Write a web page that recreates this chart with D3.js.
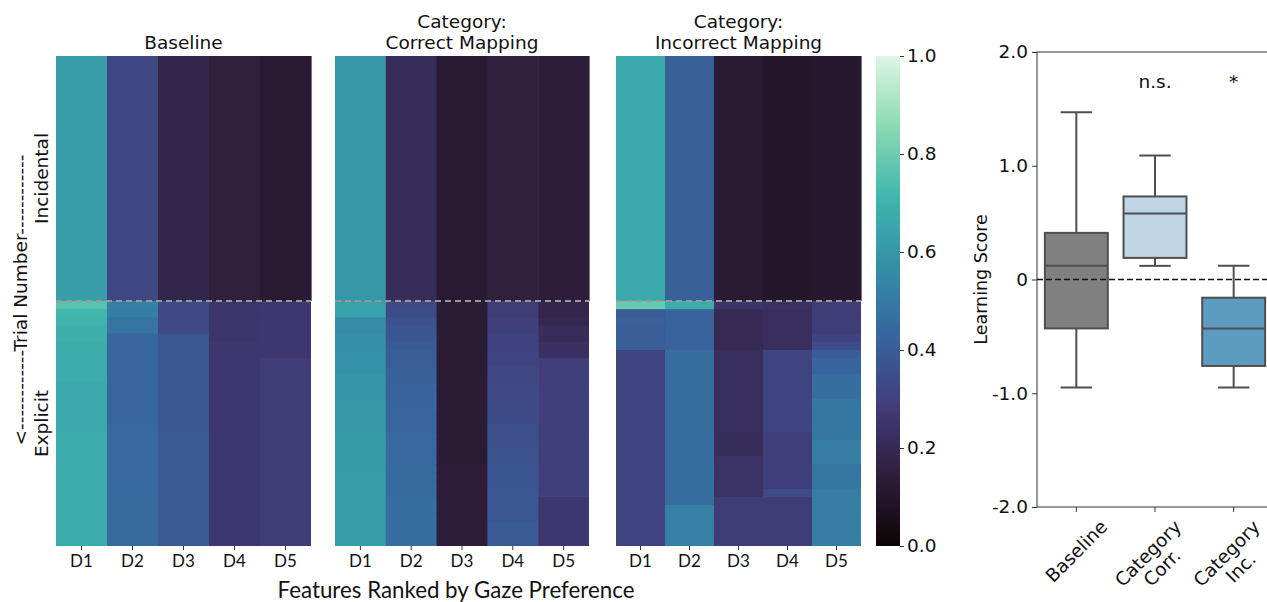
<!DOCTYPE html>
<html>
<head>
<meta charset="utf-8">
<script src="https://cdn.jsdelivr.net/npm/d3@7"></script>
<style>
  body { margin: 0; background: #fff; }
  text { font-family: "DejaVu Sans", sans-serif; fill: #111; }
</style>
</head>
<body>
<svg id="chart" width="1267" height="602"></svg>
<script>
// ---- data ----
const features = ["D1", "D2", "D3", "D4", "D5"];
const conditions = ["Baseline", "Category:\nCorrect Mapping", "Category:\nIncorrect Mapping"];

// incidental phase: one mean value per feature (flat block)
const incidentalBaseline  = [0.62, 0.32, 0.18, 0.15, 0.12];
const incidentalCorrect   = [0.60, 0.21, 0.12, 0.15, 0.14];
const incidentalIncorrect = [0.66, 0.41, 0.12, 0.10, 0.11];

// explicit phase: 30 trials per feature (columns D1..D5)
const explicitBaseline = [
  [0.76,0.71,0.70,0.69,0.69,0.68,0.68,0.67,0.67,0.67,0.66,0.66,0.66,0.66,0.66,0.66,0.67,0.67,0.67,0.67,0.68,0.68,0.68,0.68,0.68,0.68,0.68,0.68,0.68,0.68],
  [0.52,0.51,0.48,0.48,0.43,0.43,0.43,0.43,0.43,0.43,0.43,0.43,0.43,0.43,0.43,0.44,0.44,0.44,0.44,0.44,0.44,0.44,0.44,0.45,0.45,0.45,0.45,0.45,0.45,0.45],
  [0.33,0.33,0.33,0.33,0.38,0.38,0.38,0.38,0.38,0.38,0.38,0.38,0.38,0.38,0.38,0.38,0.39,0.39,0.39,0.39,0.39,0.39,0.39,0.39,0.39,0.39,0.39,0.39,0.39,0.39],
  [0.25,0.25,0.25,0.25,0.25,0.26,0.26,0.26,0.26,0.26,0.26,0.26,0.26,0.26,0.26,0.26,0.26,0.26,0.26,0.26,0.26,0.26,0.26,0.26,0.26,0.26,0.26,0.26,0.26,0.26],
  [0.26,0.26,0.26,0.26,0.26,0.26,0.26,0.28,0.28,0.28,0.28,0.28,0.28,0.28,0.28,0.28,0.28,0.28,0.28,0.28,0.28,0.28,0.28,0.28,0.28,0.28,0.28,0.28,0.28,0.28]
];
const explicitCorrect = [
  [0.64,0.64,0.56,0.56,0.57,0.57,0.58,0.58,0.58,0.59,0.59,0.59,0.60,0.60,0.60,0.60,0.61,0.61,0.61,0.61,0.61,0.62,0.62,0.62,0.62,0.62,0.62,0.62,0.62,0.62],
  [0.33,0.34,0.36,0.37,0.38,0.39,0.40,0.40,0.41,0.41,0.42,0.42,0.42,0.43,0.43,0.43,0.44,0.44,0.44,0.44,0.45,0.45,0.45,0.45,0.46,0.46,0.46,0.46,0.46,0.46],
  [0.13,0.13,0.13,0.13,0.13,0.13,0.13,0.13,0.13,0.13,0.13,0.13,0.13,0.13,0.13,0.13,0.13,0.13,0.13,0.13,0.14,0.14,0.14,0.14,0.14,0.14,0.14,0.14,0.14,0.14],
  [0.28,0.28,0.29,0.29,0.30,0.30,0.31,0.31,0.32,0.32,0.33,0.33,0.33,0.34,0.34,0.35,0.35,0.35,0.36,0.36,0.37,0.37,0.37,0.38,0.38,0.38,0.38,0.39,0.39,0.39],
  [0.18,0.18,0.19,0.21,0.21,0.23,0.23,0.29,0.29,0.29,0.29,0.29,0.29,0.29,0.29,0.29,0.29,0.29,0.29,0.29,0.29,0.29,0.29,0.29,0.26,0.26,0.26,0.26,0.26,0.26]
];
const explicitIncorrect = [
  [0.79,0.40,0.41,0.40,0.40,0.40,0.31,0.31,0.31,0.31,0.31,0.31,0.31,0.31,0.31,0.31,0.31,0.31,0.31,0.31,0.31,0.31,0.31,0.31,0.31,0.31,0.31,0.31,0.31,0.31],
  [0.68,0.42,0.42,0.42,0.42,0.42,0.46,0.46,0.46,0.46,0.46,0.46,0.46,0.46,0.46,0.46,0.46,0.46,0.46,0.46,0.46,0.46,0.46,0.46,0.46,0.52,0.52,0.52,0.52,0.52],
  [0.25,0.20,0.20,0.20,0.20,0.20,0.22,0.22,0.22,0.22,0.22,0.22,0.22,0.22,0.22,0.22,0.21,0.21,0.21,0.24,0.24,0.24,0.24,0.24,0.28,0.28,0.28,0.28,0.28,0.28],
  [0.23,0.22,0.22,0.22,0.22,0.22,0.31,0.31,0.31,0.31,0.31,0.31,0.31,0.31,0.31,0.31,0.29,0.29,0.29,0.29,0.29,0.29,0.29,0.33,0.28,0.28,0.28,0.28,0.28,0.28],
  [0.28,0.28,0.28,0.28,0.31,0.34,0.40,0.42,0.42,0.46,0.46,0.46,0.49,0.49,0.49,0.49,0.49,0.51,0.51,0.51,0.48,0.49,0.49,0.51,0.51,0.51,0.51,0.51,0.51,0.51]
];
const incidentalData = [incidentalBaseline, incidentalCorrect, incidentalIncorrect];
const explicitData = [explicitBaseline, explicitCorrect, explicitIncorrect];

// learning score box stats
const boxGroups = ["Baseline", "Category\nCorr.", "Category\nInc."];
const boxWhiskerLow = [-0.95, 0.12, -0.95];
const boxQ1        = [-0.43, 0.19, -0.76];
const boxMedian    = [0.12, 0.58, -0.43];
const boxQ3        = [0.41, 0.73, -0.16];
const boxWhiskerHigh = [1.47, 1.09, 0.12];
const boxColors = ["#808080", "#bed5e6", "#5e9bc1"];
const boxSignif = ["", "n.s.", "*"];
const scoreTicks = [2, 1, 0, -1, -2];
const scoreTickLabels = ["2.0", "1.0", "0", "-1.0", "-2.0"];
const colorbarTicks = [0, 0.2, 0.4, 0.6, 0.8, 1.0];

// ---- colormap (seaborn "mako") ----
const makoStops = [0, 1/7, 2/7, 3/7, 4/7, 5/7, 6/7, 1];
const makoColors = ["#0b0405", "#2e1e3b", "#413d7b", "#37659e", "#348fa7", "#40b7ad", "#8bdab2", "#def5e5"];
const color = d3.scaleLinear().domain(makoStops).range(makoColors).interpolate(d3.interpolateRgb).clamp(true);

const FS = "18.5px";
const svg = d3.select("#chart");
svg.append("rect").attr("width", 1267).attr("height", 602).attr("fill", "#fff");

// ---- heatmaps ----
const panelX = [[56, 311], [335, 589], [616, 861]];
const hmTop = 56, hmBottom = 546;
const nIncidental = 30, nExplicit = 30;
const y = d3.scaleLinear().domain([0, nIncidental + nExplicit]).range([hmTop, hmBottom]);

conditions.forEach((cond, p) => {
  const x = d3.scaleBand().domain(features).range(panelX[p]).padding(0);
  const g = svg.append("g");

  // incidental block
  g.selectAll("rect.inc")
    .data(incidentalData[p])
    .enter().append("rect")
    .attr("class", "inc")
    .attr("x", (d, i) => x(features[i]))
    .attr("y", y(0))
    .attr("width", x.bandwidth() + (features.length - 1 > 0 ? 0.6 : 0))
    .attr("height", y(nIncidental) - y(0))
    .attr("fill", d => color(d));

  // explicit rows
  const cells = [];
  explicitData[p].forEach((col, ci) => col.forEach((v, ri) => cells.push({ f: features[ci], r: ri, v })));
  g.selectAll("rect.exp")
    .data(cells)
    .enter().append("rect")
    .attr("class", "exp")
    .attr("x", d => x(d.f))
    .attr("y", d => y(nIncidental + d.r))
    .attr("width", d => x.bandwidth() + (d.f === "D5" ? 0 : 0.6))
    .attr("height", d => y(1) - y(0) + (d.r === nExplicit - 1 ? 0 : 0.8))
    .attr("fill", d => color(d.v));

  // phase separator
  g.append("line")
    .attr("x1", panelX[p][0]).attr("x2", panelX[p][1])
    .attr("y1", y(nIncidental)).attr("y2", y(nIncidental))
    .attr("stroke", "#999").attr("stroke-width", 2)
    .attr("stroke-dasharray", "6,4");

  // x axis
  const ax = g.append("g").attr("transform", `translate(0,${hmBottom})`)
    .call(d3.axisBottom(x).tickSize(4).tickPadding(5));
  ax.select(".domain").remove();
  ax.selectAll(".tick line").attr("stroke", "#333");
  ax.selectAll("text")
    .style("font-family", "Lato, 'Open Sans', sans-serif")
    .style("font-size", "17px").attr("fill", "#111");

  // title
  const lines = cond.split("\n");
  const cx = (panelX[p][0] + panelX[p][1]) / 2;
  lines.forEach((t, li) => {
    g.append("text")
      .attr("x", cx)
      .attr("y", 49 - (lines.length - 1 - li) * 21.5)
      .attr("text-anchor", "middle")
      .style("font-size", FS)
      .text(t);
  });
});

// shared axis labels
svg.append("text")
  .attr("x", 456).attr("y", 598)
  .attr("text-anchor", "middle")
  .style("font-family", "Lato, 'Open Sans', sans-serif")
  .style("font-size", "22.3px")
  .text("Features Ranked by Gaze Preference");

const dashes = "-".repeat(12);
svg.append("text")
  .attr("transform", "translate(27,300) rotate(-90)")
  .attr("text-anchor", "middle")
  .style("font-size", FS)
  .text("<" + dashes + "Trial Number" + dashes);
svg.append("text")
  .attr("transform", `translate(48,${(y(0) + y(nIncidental)) / 2}) rotate(-90)`)
  .attr("text-anchor", "middle")
  .style("font-size", FS)
  .text("Incidental");
svg.append("text")
  .attr("transform", `translate(48,${(y(nIncidental) + y(60)) / 2}) rotate(-90)`)
  .attr("text-anchor", "middle")
  .style("font-size", FS)
  .text("Explicit");

// ---- colorbar ----
const cbX = 876, cbW = 24;
const cbScale = d3.scaleLinear().domain([0, 1]).range([hmBottom, hmTop]);
const grad = svg.append("defs").append("linearGradient")
  .attr("id", "makoGrad").attr("x1", 0).attr("y1", 1).attr("x2", 0).attr("y2", 0);
d3.range(0, 1.0001, 0.02).forEach(t => {
  grad.append("stop").attr("offset", t).attr("stop-color", color(t));
});
svg.append("rect")
  .attr("x", cbX).attr("y", hmTop)
  .attr("width", cbW).attr("height", hmBottom - hmTop)
  .attr("fill", "url(#makoGrad)");
const cbAxis = svg.append("g").attr("transform", `translate(${cbX + cbW},0)`)
  .call(d3.axisRight(cbScale).tickValues(colorbarTicks).tickFormat(d3.format(".1f")).tickSize(4).tickPadding(3));
cbAxis.select(".domain").remove();
cbAxis.selectAll(".tick line").attr("stroke", "#333");
cbAxis.selectAll("text").style("font-size", FS).attr("fill", "#111");

// ---- box plot ----
const bx0 = 1037, bx1 = 1273, byTop = 52, byBottom = 507;
const bx = d3.scaleBand().domain(boxGroups).range([bx0, bx1]).paddingInner(0.2).paddingOuter(0.1);
const by = d3.scaleLinear().domain([-2, 2]).range([byBottom, byTop]);
const bg = svg.append("g");

// frame
bg.append("rect")
  .attr("x", bx0).attr("y", byTop)
  .attr("width", bx1 - bx0).attr("height", byBottom - byTop)
  .attr("fill", "none").attr("stroke", "#333").attr("stroke-width", 1);

const edge = "#4f4f4f";
boxGroups.forEach((grp, i) => {
  const left = bx(grp), w = bx.bandwidth(), c = left + w / 2;
  // whiskers
  bg.append("line").attr("x1", c).attr("x2", c)
    .attr("y1", by(boxWhiskerHigh[i])).attr("y2", by(boxQ3[i]))
    .attr("stroke", edge).attr("stroke-width", 2);
  bg.append("line").attr("x1", c).attr("x2", c)
    .attr("y1", by(boxQ1[i])).attr("y2", by(boxWhiskerLow[i]))
    .attr("stroke", edge).attr("stroke-width", 2);
  [boxWhiskerHigh[i], boxWhiskerLow[i]].forEach(v => {
    bg.append("line").attr("x1", c - w / 4).attr("x2", c + w / 4)
      .attr("y1", by(v)).attr("y2", by(v))
      .attr("stroke", edge).attr("stroke-width", 2);
  });
  bg.append("rect")
    .attr("x", left).attr("y", by(boxQ3[i]))
    .attr("width", w).attr("height", by(boxQ1[i]) - by(boxQ3[i]))
    .attr("fill", boxColors[i]).attr("stroke", edge).attr("stroke-width", 2);
  bg.append("line").attr("x1", left).attr("x2", left + w)
    .attr("y1", by(boxMedian[i])).attr("y2", by(boxMedian[i]))
    .attr("stroke", edge).attr("stroke-width", 2);
  if (boxSignif[i]) {
    bg.append("text").attr("x", c).attr("y", 88)
      .attr("text-anchor", "middle").style("font-size", FS)
      .text(boxSignif[i]);
  }
});

// zero reference
bg.append("line")
  .attr("x1", bx0).attr("x2", bx1)
  .attr("y1", by(0)).attr("y2", by(0))
  .attr("stroke", "#111").attr("stroke-width", 1.6)
  .attr("stroke-dasharray", "6,3");

// y axis
const yAx = bg.append("g").attr("transform", `translate(${bx0},0)`)
  .call(d3.axisLeft(by).tickValues(scoreTicks).tickFormat((d, i) => scoreTickLabels[i]).tickSize(5).tickPadding(4));
yAx.select(".domain").remove();
yAx.selectAll(".tick line").attr("stroke", "#333");
yAx.selectAll("text").style("font-size", FS).attr("fill", "#111");

bg.append("text")
  .attr("transform", `translate(987,${by(0)}) rotate(-90)`)
  .attr("text-anchor", "middle")
  .style("font-size", "17.5px")
  .text("Learning Score");

// x ticks and rotated labels
boxGroups.forEach(grp => {
  const c = bx(grp) + bx.bandwidth() / 2;
  bg.append("line").attr("x1", c).attr("x2", c)
    .attr("y1", byBottom).attr("y2", byBottom + 5).attr("stroke", "#333");
  const outer = bg.append("g");
  const inner = outer.append("g").attr("transform", "rotate(-45)");
  const lines = grp.split("\n");
  lines.forEach((t, li) => {
    inner.append("text")
      .attr("x", 0).attr("y", (li - (lines.length - 1) / 2) * 20)
      .attr("text-anchor", "middle").attr("dominant-baseline", "central")
      .style("font-size", FS)
      .text(t);
  });
  const bb = outer.node().getBBox();
  outer.attr("transform", `translate(${c - (bb.x + bb.width / 2)},${byBottom + 9 - bb.y})`);
});
</script>
</body>
</html>
